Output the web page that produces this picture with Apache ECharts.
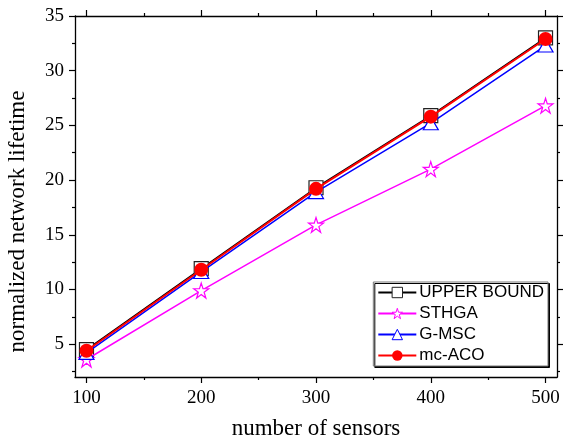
<!DOCTYPE html>
<html><head><meta charset="utf-8">
<script src="https://cdn.jsdelivr.net/npm/echarts@6/dist/echarts.min.js"></script>
<style>html,body{margin:0;padding:0;background:#fff}#c{width:563px;height:438px}</style>
</head><body><div id="c"></div>
<script>
var sensors = [100, 200, 300, 400, 500];
var upperBound = [4.5, 11.9, 19.3, 25.9, 33.0];
var sthga = [3.6, 9.9, 15.9, 21.0, 26.8];
var gmsc = [4.2, 11.6, 18.9, 25.2, 32.3];
var mcaco = [4.4, 11.8, 19.2, 25.8, 32.9];
var yMajor = [5, 10, 15, 20, 25, 30, 35];
var yMinor = [2.5, 7.5, 12.5, 17.5, 22.5, 27.5, 32.5];
var xMajor = [100, 200, 300, 400, 500];
var xMinor = [150, 250, 350, 450];

var star = 'path://M50,2 L61,36 L97,36 L68,57 L79,92 L50,70 L21,92 L32,57 L3,36 L39,36 Z';
function pairs(ys){ return sensors.map(function(x,i){return [x, ys[i]];}); }
var serif = '"Liberation Serif", "Times New Roman", serif';
var sans = '"Liberation Sans", Arial, sans-serif';

function xAx(pos, vals, len, labels){
  return {type:'value', position:pos, min:90, max:510, gridIndex:0,
    axisLine:{show:labels, lineStyle:{color:'#000', width:1.3}},
    splitLine:{show:false},
    axisTick:{show:true, inside:false, length:len, customValues:vals, lineStyle:{color:'#000', width:1.2}},
    axisLabel:{show:labels && pos==='bottom', customValues:xMajor, color:'#000', fontFamily:serif, fontSize:19, margin:12},
    name: (labels && pos==='bottom') ? 'number of sensors' : '', nameLocation:'middle', nameGap:40,
    nameTextStyle:{color:'#000', fontFamily:serif, fontSize:23}};
}
function yAx(pos, vals, len, labels){
  return {type:'value', position:pos, min:2, max:35, gridIndex:0,
    axisLine:{show:labels, lineStyle:{color:'#000', width:1.3}},
    splitLine:{show:false},
    axisTick:{show:true, inside:false, length:len, customValues:vals, lineStyle:{color:'#000', width:1.2}},
    axisLabel:{show:labels && pos==='left', customValues:yMajor, color:'#000', fontFamily:serif, fontSize:19, margin:11},
    name: (labels && pos==='left') ? 'normalized network lifetime' : '', nameLocation:'middle', nameGap:46,
    nameTextStyle:{color:'#000', fontFamily:serif, fontSize:23, padding:[0,50,0,0]}};
}

var chart = echarts.init(document.getElementById('c'), null, {renderer:'canvas'});
chart.setOption({
  animation:false,
  backgroundColor:'#fff',
  grid:{left:75, right:6, top:16, bottom:61, containLabel:false, outerBoundsMode:'none'},
  xAxis:[xAx('bottom', xMajor, 6, true), xAx('bottom', xMinor, 3, false),
         xAx('top', xMajor, 6, true), xAx('top', xMinor, 3, false)],
  yAxis:[yAx('left', yMajor, 6, true), yAx('left', yMinor, 3, false),
         yAx('right', yMajor, 6, true), yAx('right', yMinor, 3, false)],
  legend:{
    right:15, bottom:72, orient:'vertical', itemGap:4, itemWidth:38, itemHeight:13,
    backgroundColor:'#fff', borderColor:'#777', borderWidth:1, padding:[2,4,2,4],
    shadowColor:'#000', shadowOffsetX:1.5, shadowOffsetY:1.5, shadowBlur:0,
    borderRadius:0,
    textStyle:{color:'#000', fontFamily:sans, fontSize:17, padding:[0,0,0,-2]},
    data:[
      {name:'UPPER BOUND', itemStyle:{color:'#fff', borderColor:'#222', borderWidth:1}},
      {name:'STHGA', itemStyle:{color:'#fff', borderColor:'#ff00ff', borderWidth:1}},
      {name:'G-MSC', itemStyle:{color:'#fff', borderColor:'#0000ff', borderWidth:1}},
      {name:'mc-ACO', itemStyle:{color:'#ff0000', borderWidth:0}}
    ]
  },
  series:[
    {name:'UPPER BOUND', type:'line', data:pairs(upperBound), symbol:'rect', symbolSize:14,
      lineStyle:{color:'#000', width:1.5}, itemStyle:{color:'#fff', borderColor:'#222', borderWidth:1.2}, color:'#000', z:2},
    {name:'STHGA', type:'line', data:pairs(sthga), symbol:star, symbolSize:15,
      lineStyle:{color:'#ff00ff', width:1.5}, itemStyle:{color:'#fff', borderColor:'#ff00ff', borderWidth:1.2}, color:'#ff00ff', z:3},
    {name:'G-MSC', type:'line', data:pairs(gmsc), symbol:'triangle', symbolSize:[15,13],
      lineStyle:{color:'#0000ff', width:1.5}, itemStyle:{color:'#fff', borderColor:'#0000ff', borderWidth:1.2}, color:'#0000ff', z:4},
    {name:'mc-ACO', type:'line', data:pairs(mcaco), symbol:'circle', symbolSize:14,
      lineStyle:{color:'#ff0000', width:2}, itemStyle:{color:'#ff0000', borderColor:'#ff0000', borderWidth:0}, color:'#ff0000', z:5}
  ]
});
</script></body></html>
